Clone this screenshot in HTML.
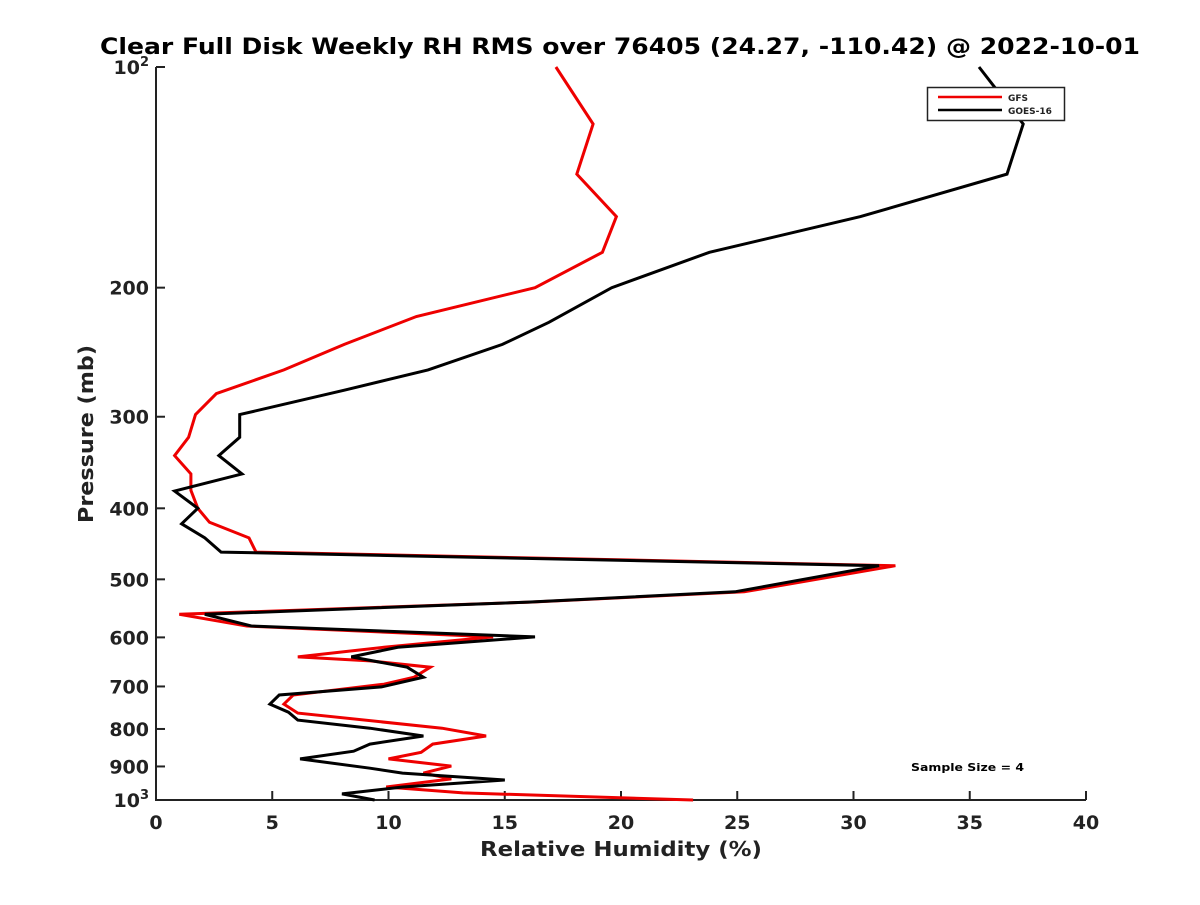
<!DOCTYPE html>
<html><head><meta charset="utf-8"><style>
body{margin:0;background:#fff;}
svg text{font-family:"DejaVu Sans","Liberation Sans",sans-serif;font-weight:bold;fill:#222;}
</style></head><body>
<svg id="chart" width="1200" height="900" xmlns="http://www.w3.org/2000/svg">
<rect width="1200" height="900" fill="#fff"/>
<text x="620" y="54" font-size="22" text-anchor="middle" textLength="1040" lengthAdjust="spacingAndGlyphs" style="fill:#000">Clear Full Disk Weekly RH RMS over 76405 (24.27, -110.42) @ 2022-10-01</text>
<g id="axes"></g>
<g id="series"></g>
<g>
<rect x="927.5" y="87.5" width="137" height="33" fill="#fff" stroke="#222" stroke-width="1.5"/>
<line x1="938" y1="97" x2="1002" y2="97" stroke="#e00" stroke-width="2.5"/>
<text x="1008" y="101" font-size="9">GFS</text>
<line x1="938" y1="110" x2="1002" y2="110" stroke="#000" stroke-width="2.5"/>
<text x="1008" y="114" font-size="9">GOES-16</text>
</g>
<text x="911" y="771" font-size="11" textLength="113" lengthAdjust="spacingAndGlyphs" style="fill:#000">Sample Size = 4</text>
<text x="621" y="856" font-size="20" text-anchor="middle" textLength="282" lengthAdjust="spacingAndGlyphs">Relative Humidity (%)</text>
<text transform="translate(93,434) rotate(-90)" font-size="20" text-anchor="middle" textLength="178" lengthAdjust="spacingAndGlyphs">Pressure (mb)</text>
</svg>
<script>
const xTicks=[0,5,10,15,20,25,30,35,40];
const yTicks=[100,200,300,400,500,600,700,800,900,1000];
const yTickLabels=["10²","200","300","400","500","600","700","800","900","10³"];
const gfsPressure=[100,119.6,140,160,179,200,219,239,259,279,298,320,339,359,378,400,418,439,459,479,520,537,558,579,599,619,638,646,659,680,695,719,740,761,798,818,839,861,879,899,919,936,960,978,1000];
const gfsRH=[17.2,18.8,18.1,19.8,19.2,16.3,11.2,8.1,5.5,2.6,1.7,1.4,0.8,1.5,1.5,1.8,2.3,4.0,4.3,31.8,25.3,16.1,1.0,3.9,14.5,9.8,6.1,9.2,11.8,11.1,9.8,5.9,5.5,6.1,12.3,14.2,11.9,11.4,10.0,12.7,11.5,12.7,9.9,13.2,23.1];
const goesPressure=[100,119.6,140,160,179,200,223,239,259,276,298,320,339,359,379,400,420,439,459,479,520,537,558,579,599,619,638,659,680,701,719,740,759,778,798,818,839,858,879,905,919,939,960,981,1000];
const goesRH=[35.4,37.3,36.6,30.3,23.8,19.6,16.9,14.9,11.7,8.1,3.6,3.6,2.7,3.7,0.8,1.8,1.1,2.1,2.8,31.1,24.9,16.0,2.1,4.1,16.3,10.4,8.4,10.8,11.5,9.7,5.3,4.9,5.7,6.1,9.2,11.5,9.2,8.5,6.2,9.2,10.6,15.0,10.6,8.0,9.4];
const X0=156,X1=1086,Y0=67,Y1=800;
const xs=v=>X0+(v-0)/(40-0)*(X1-X0);
const ys=p=>Y0+(Math.log10(p)-2)*(Y1-Y0);
const NS="http://www.w3.org/2000/svg";
function mk(tag,attrs,parent){const e=document.createElementNS(NS,tag);for(const k in attrs)e.setAttribute(k,attrs[k]);parent.appendChild(e);return e;}
const axes=document.getElementById('axes');
let a=mk('path',{d:`M${X0},${Y0}V${Y1}H${X1}`,fill:'none',stroke:'#222','stroke-width':2},axes);


xTicks.forEach(v=>{const x=xs(v);
 const t=mk('line',{x1:x,y1:Y1,x2:x,y2:Y1-9,stroke:'#222','stroke-width':2},axes);
 
 
 const l=mk('text',{x:x,y:Y1+29,'font-size':19,'text-anchor':'middle'},axes);l.textContent=v;
 
 
});
yTicks.forEach((p,i)=>{const y=ys(p);
 const t=mk('line',{x1:X0,y1:y,x2:X0+9,y2:y,stroke:'#222','stroke-width':2},axes);
 
 
 const l=mk('text',{x:X0-7,y:y+7,'font-size':19,'text-anchor':'end'},axes);
 const lab=yTickLabels[i];
 if(lab.length===3&&(lab.endsWith('²')||lab.endsWith('³'))){l.textContent='10';const s=mk('tspan',{dy:-8,'font-size':13},l);s.textContent=lab.endsWith('²')?'2':'3';}
 else l.textContent=lab;
 
 
});
const ser=document.getElementById('series');
function line(ps,vs,color,name){const d=ps.map((p,i)=>(i?'L':'M')+xs(vs[i]).toFixed(1)+','+ys(p).toFixed(1)).join('');
 const e=mk('path',{d:d,fill:'none',stroke:color,'stroke-width':3,'stroke-linejoin':'miter'},ser);
 
 }
line(gfsPressure,gfsRH,'#e00','gfs-line');
line(goesPressure,goesRH,'#000','goes16-line');
</script>
</body></html>
